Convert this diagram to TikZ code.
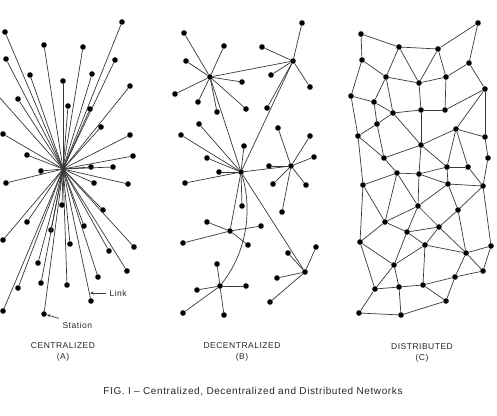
\documentclass[tikz,border=0pt]{standalone}
\usepackage{fontspec}
\setmainfont[LetterSpace=6]{Liberation Sans}
\usetikzlibrary{arrows.meta}
\begin{document}
\begin{tikzpicture}[x=1pt,y=-1pt,
  dot/.style={circle,fill=black,inner sep=0pt,minimum size=5.6pt},
  link/.style={draw=black!78,line width=0.7pt},
  lab/.style={font=\fontsize{8.5}{10}\selectfont,text=black!85},
  figcap/.style={font=\fontsize{10}{12}\selectfont,text=black!85},
  pointer/.style={link,-{Stealth[length=3.5pt,width=3pt]}}]
\useasboundingbox (0,0) rectangle (497,415);

% ---------- (A) centralized ----------
\coordinate (hubA) at (63,169);
\foreach \x/\y [count=\i] in {5/32,122/22,44/45,83/47,6/59,115/60,30/75,92/74,63/81,130/86,
  18/99,68/106,90/109,101/127,3/134,130/135,27/155,133/156,91/167,113/167,
  41/171,6/183,94/183,128/184,62/205,103/210,27/222,51/230,84/226,3/240,
  70/244,134/247,109/251,38/263,127/271,98/277,18/288,41/283,67/285,3/311,
  91/301,44/314}
  {\node[dot] (a\i) at (\x,\y) {};
   \draw[link] (hubA) -- (a\i);}
\coordinate (aedge) at (0,98);
\draw[link] (hubA) -- (aedge);
\node[lab,anchor=west] (linkl) at (106,293) {Link};
\coordinate (linktip) at (90,293);
\draw[pointer] (linkl.west) -- (linktip);
\node[lab,anchor=west] (stal) at (59,325) {Station};
\draw[pointer] (stal.north west) -- (a42);

% ---------- (B) decentralized ----------
\node[dot] (H1) at (210,77) {};
\node[dot] (H2) at (293,61) {};
\node[dot] (H0) at (241,172) {};
\node[dot] (H3) at (291,166) {};
\node[dot] (H5) at (230,231) {};
\node[dot] (H6) at (305,272) {};
\node[dot] (H7) at (220,286) {};
\foreach \x/\y [count=\i] in {184/33,224/46,186/61,242/82,175/94,198/102,217/112,246/109}
  {\node[dot] (bA\i) at (\x,\y) {}; \draw[link] (H1) -- (bA\i);}
\foreach \x/\y [count=\i] in {302/23,262/47,271/75,310/87,267/108}
  {\node[dot] (bB\i) at (\x,\y) {}; \draw[link] (H2) -- (bB\i);}
\foreach \x/\y [count=\i] in {199/124,181/135,244/146,207/158,219/172,185/183,242/206}
  {\node[dot] (bC\i) at (\x,\y) {}; \draw[link] (H0) -- (bC\i);}
\foreach \x/\y [count=\i] in {269/166,278/128,310/136,314/157,273/184,306/185,282/212}
  {\node[dot] (bD\i) at (\x,\y) {}; \draw[link] (H3) -- (bD\i);}
\foreach \x/\y [count=\i] in {207/222,261/226,183/243,248/245}
  {\node[dot] (bE\i) at (\x,\y) {}; \draw[link] (H5) -- (bE\i);}
\foreach \x/\y [count=\i] in {316/247,288/253,277/278,270/302}
  {\node[dot] (bF\i) at (\x,\y) {}; \draw[link] (H6) -- (bF\i);}
\foreach \x/\y [count=\i] in {217/264,246/286,197/290,183/313,224/315}
  {\node[dot] (bG\i) at (\x,\y) {}; \draw[link] (H7) -- (bG\i);}
\draw[link] (H1) -- (H2);
\draw[link] (H1) -- (H0);
\draw[link] (H2) -- (H0);
\draw[link] (H0) -- (H3);
\draw[link] (H0) -- (H5);
\draw[link] (H0) -- (H6);
\draw[link] (H0) .. controls (250,200) and (252,245) .. (H7);

% ---------- (C) distributed ----------
\foreach \x/\y [count=\i] in {361/34,478/23,399/47,438/49,362/60,469/63,386/77,419/83,446/77,485/89,
  351/96,374/102,393/113,421/110,445/110,377/124,456/129,358/136,485/137,421/145,
  384/158,488/158,447/167,468/167,397/173,419/174,363/185,448/184,483/186,418/206,
  458/210,385/222,439/227,407/232,360/242,425/245,491/246,466/253,394/265,483/271,
  455/277,375/289,399/287,423/285,446/301,359/313,401/315}
  {\node[dot] (c\i) at (\x,\y) {};}
\foreach \u/\v in {1/3,1/5,3/4,4/2,2/6,4/8,4/9,3/7,3/8,5/7,5/11,7/8,8/9,9/6,6/10,
  7/12,7/13,11/12,12/13,12/16,13/16,11/18,16/18,13/14,14/15,8/14,9/15,15/10,10/17,10/19,
  13/20,14/20,16/21,20/17,17/19,17/23,17/24,19/22,20/23,20/26,21/25,18/21,18/27,21/20,
  25/26,25/27,26/23,23/24,23/28,26/28,24/29,22/29,28/29,25/30,26/30,28/30,28/31,29/31,
  27/32,27/35,25/32,30/32,30/34,30/33,31/33,31/38,32/34,32/35,34/33,34/36,33/36,33/38,
  36/38,38/37,29/37,37/40,38/40,38/41,34/39,35/39,36/39,35/42,36/44,39/42,39/43,42/43,
  43/44,44/41,41/40,44/45,41/45,42/46,43/47,46/47,47/45}
  {\draw[link] (c\u) -- (c\v);}

% ---------- labels ----------
\node[lab] (tA) at (63,346) {CENTRALIZED};
\node[lab] (tAb) at (63,357) {(A)};
\node[lab] (tB) at (242,346) {DECENTRALIZED};
\node[lab] (tBb) at (242,357) {(B)};
\node[lab] (tC) at (422,347) {DISTRIBUTED};
\node[lab] (tCb) at (422,358) {(C)};
\node[figcap] (fig) at (253,392) {FIG. I – Centralized, Decentralized and Distributed Networks};
\end{tikzpicture}
\end{document}
